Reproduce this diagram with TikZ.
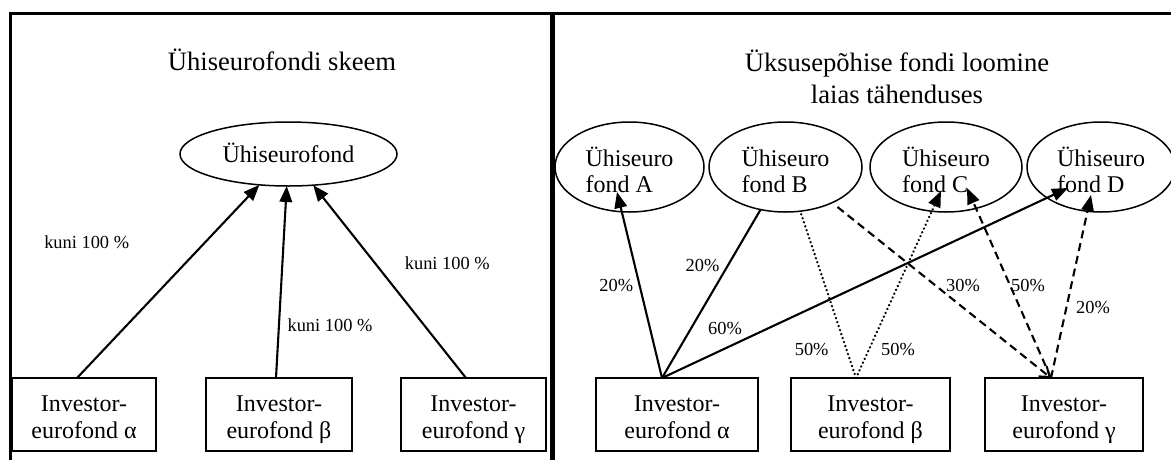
\documentclass[tikz,border=0pt]{standalone}
\usepackage{fontspec}
\setmainfont{Liberation Serif}
\usetikzlibrary{arrows.meta,shapes.geometric}
\begin{document}
\begin{tikzpicture}[x=1pt,y=-1pt,
  every node/.style={inner sep=0pt, outer sep=0pt},
  mainfont/.style={font=\fontsize{24}{27}\selectfont},
  titlefont/.style={font=\fontsize{26.6}{32}\selectfont},
  lblfont/.style={font=\fontsize{18.4}{20}\selectfont},
  fundbox/.style={draw, line width=1.6pt, minimum height=73pt, align=center, mainfont,
                  text height=54pt, text depth=6pt},
  fundell/.style={draw, ellipse, line width=1.5pt, mainfont},
  ufund/.style={fundell, minimum height=90pt, align=left, font=\fontsize{24}{26}\selectfont,
                text height=52pt, text depth=2pt},
  conn/.style={line width=2.1pt},
  arrowtip/.style={-{Triangle[length=16pt,width=12.5pt]}},
  openbarb/.style={-{Straight Barb[length=9pt,width=13pt,line width=2pt]}},
  framerule/.style={line width=3pt},
  dashline/.style={dash pattern=on 8pt off 5pt},
  dotline/.style={line width=2.6pt, line cap=round, dash pattern=on 0.01pt off 4.2pt},
]
\useasboundingbox (0,0) rectangle (1171,459);
% frame
\draw[framerule, line join=miter] (10,462) -- (10,13.3) -- (1180,13.3);
\draw[line width=5pt] (552,13.3) -- (552,462);

% ---------- left panel ----------
\node[titlefont, text height=18pt, text depth=2pt] (lt) at (282,62) {Ühiseurofondi skeem};
\node[fundell, minimum width=217pt, minimum height=64pt, text height=16pt, text depth=0pt] (E) at (288.5,154) {Ühiseurofond};
\node[fundbox, minimum width=144pt] (La) at (84,414.5) {Investor-\\eurofond α};
\node[fundbox, minimum width=146pt] (Lb) at (279,414.5) {Investor-\\eurofond β};
\node[fundbox, minimum width=145pt] (Lg) at (473.5,414.5) {Investor-\\eurofond γ};

\draw[conn,arrowtip] ([xshift=-7pt]La.north) -- (E);
\draw[conn,arrowtip] ([xshift=-3pt]Lb.north) -- (E);
\draw[conn,arrowtip] ([xshift=-7.5pt]Lg.north) -- (E);

\node[lblfont] (k1) at (86.7,242.7) {kuni 100 \%};
\node[lblfont] (k2) at (330,325) {kuni 100 \%};
\node[lblfont] (k3) at (447.3,263.3) {kuni 100 \%};

% ---------- right panel ----------
\node[titlefont, align=center, text height=52pt, text depth=4pt] (rt) at (897,79) {Üksusepõhise fondi loomine\\laias tähenduses};
\node[ufund, minimum width=149pt] (A) at (629.5,167) {Ühiseuro\\fond A};
\node[ufund, minimum width=153pt] (B) at (785.5,167) {Ühiseuro\\fond B};
\node[ufund, minimum width=152pt] (C) at (946,167) {Ühiseuro\\fond C};
\node[ufund, minimum width=148pt] (D) at (1101,167) {Ühiseuro\\fond D};

\node[fundbox, minimum width=162pt] (Ra) at (677,414.5) {Investor-\\eurofond α};
\node[fundbox, minimum width=159pt] (Rb) at (870.5,414.5) {Investor-\\eurofond β};
\node[fundbox, minimum width=158pt] (Rg) at (1064,414.5) {Investor-\\eurofond γ};

\draw[conn,arrowtip] ([xshift=-15pt]Ra.north) -- ([shift={(-12.5,25)}]A.center);
\draw[conn] ([xshift=-15pt]Ra.north) -- (B);
\draw[conn,arrowtip] ([xshift=-15pt]Ra.north) -- ([shift={(-33,21)}]D.center);

\draw[conn,dotline] ([xshift=-14.5pt]Rb.north) -- (B);
\draw[conn,dotline,arrowtip] ([xshift=-14.5pt]Rb.north) -- ([shift={(-5,24)}]C.center);

\draw[conn,dashline,openbarb] ([shift={(52,40)}]B.center) -- ([xshift=-13pt]Rg.north);
\draw[conn,dashline,arrowtip] ([xshift=-13pt]Rg.north) -- ([shift={(21,21)}]C.center);
\draw[conn,dashline,arrowtip] ([xshift=-13pt]Rg.north) -- ([shift={(-10,28)}]D.center);

\node[lblfont] (p1) at (616.3,285) {20\%};
\node[lblfont] (p2) at (702.5,265) {20\%};
\node[lblfont] (p3) at (725,328) {60\%};
\node[lblfont] (p4) at (811.7,349.3) {50\%};
\node[lblfont] (p5) at (898,349.3) {50\%};
\node[lblfont] (p6) at (963,285) {30\%};
\node[lblfont] (p7) at (1028,285) {50\%};
\node[lblfont] (p8) at (1093,307) {20\%};
\end{tikzpicture}
\end{document}
